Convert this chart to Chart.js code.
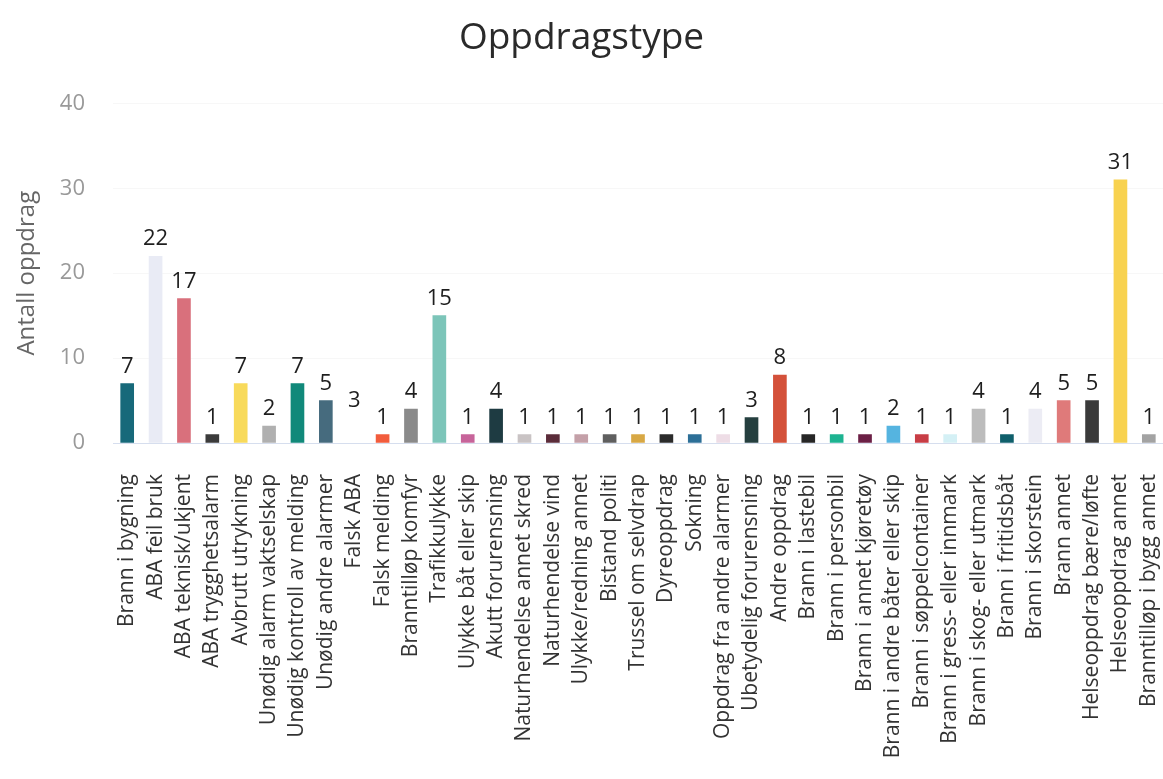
<!DOCTYPE html>
<html>
<head>
<meta charset="utf-8">
<title>Oppdragstype</title>
<script src="https://cdn.jsdelivr.net/npm/chart.js@4/dist/chart.umd.min.js"></script>
<style>
  html, body { margin: 0; padding: 0; background: #ffffff; }
  #wrap { width: 1163px; height: 779px; }
</style>
</head>
<body>
<div id="wrap"><canvas id="oppdragChart" width="1163" height="779"></canvas></div>
<script>
'use strict';

// Categories (mission types)
const categories = [
    'Brann i bygning', 'ABA feil bruk', 'ABA teknisk/ukjent', 'ABA trygghetsalarm',
    'Avbrutt utrykning', 'Unødig alarm vaktselskap', 'Unødig kontroll av melding',
    'Unødig andre alarmer', 'Falsk ABA', 'Falsk melding', 'Branntilløp komfyr',
    'Trafikkulykke', 'Ulykke båt eller skip', 'Akutt forurensning',
    'Naturhendelse annet skred', 'Naturhendelse vind', 'Ulykke/redning annet',
    'Bistand politi', 'Trussel om selvdrap', 'Dyreoppdrag', 'Sokning',
    'Oppdrag fra andre alarmer', 'Ubetydelig forurensning', 'Andre oppdrag',
    'Brann i lastebil', 'Brann i personbil', 'Brann i annet kjøretøy',
    'Brann i andre båter eller skip', 'Brann i søppelcontainer',
    'Brann i gress- eller innmark', 'Brann i skog- eller utmark', 'Brann i fritidsbåt',
    'Brann i skorstein', 'Brann annet', 'Helseoppdrag bære/løfte',
    'Helseoppdrag annet', 'Branntilløp i bygg annet'
];

// Number of missions per type
const counts = [
    7, 22, 17, 1,
    7, 2, 7,
    5, 3, 1, 4,
    15, 1, 4,
    1, 1, 1,
    1, 1, 1, 1,
    1, 3, 8,
    1, 1, 1,
    2, 1,
    1, 4, 1,
    4, 5, 5,
    31, 1
];

// One colour per bar
const barColors = [
    '#17697a', '#e9ebf5', '#d9707c', '#3b3b3b',
    '#f8da5b', '#b0b0b0', '#11897a',
    '#466b7e', '#ffffff', '#f25c3c', '#8a8a8a',
    '#7cc5b9', '#c7649a', '#1e3b42',
    '#c9c3c4', '#5b2c3a', '#c4a0a8',
    '#5f5f5f', '#d8a844', '#2b2b2b', '#2c6f97',
    '#eedde6', '#253f3f', '#d4513a',
    '#262626', '#1db391', '#6b1f45',
    '#55b4e0', '#c83d45',
    '#d4f0f5', '#bcbcbc', '#0f5f6b',
    '#ececf4', '#df7a7a', '#3a3a3a',
    '#f8d24f', '#a3a3a3'
];

const yTicks = [0, 10, 20, 30, 40];

const FONT = "'Open Sans', 'DejaVu Sans', sans-serif";

// Draws the value above each bar
const valueLabels = {
    id: 'valueLabels',
    afterDatasetsDraw: function(chart) {
        const ctx = chart.ctx;
        const meta = chart.getDatasetMeta(0);
        const values = chart.data.datasets[0].data;
        ctx.save();
        ctx.font = '22px ' + FONT;
        ctx.fillStyle = '#1e1e1e';
        ctx.textAlign = 'center';
        ctx.textBaseline = 'bottom';
        meta.data.forEach(function(bar, i) {
            ctx.fillText(String(values[i]), bar.x, bar.y - 6);
        });
        ctx.restore();
    }
};

document.addEventListener('DOMContentLoaded', function() {
    if (typeof Chart === 'undefined') {
        console.error('Chart.js is not loaded!');
        return;
    }

    const ctx = document.getElementById('oppdragChart').getContext('2d');
    new Chart(ctx, {
        type: 'bar',
        data: {
            labels: categories,
            datasets: [{
                label: 'Antall oppdrag',
                data: counts,
                backgroundColor: barColors,
                borderWidth: 0,
                barThickness: 13
            }]
        },
        options: {
            responsive: false,
            animation: false,
            layout: { padding: 0 },
            plugins: {
                legend: { display: false },
                tooltip: { enabled: false },
                title: {
                    display: true,
                    text: 'Oppdragstype',
                    color: '#2a2a2a',
                    font: { family: FONT, size: 37, weight: 'normal' },
                    padding: { top: 16, bottom: 43 }
                }
            },
            scales: {
                x: {
                    grid: { display: false, drawTicks: false },
                    border: { display: true, color: '#d6deee', width: 1 },
                    ticks: {
                        autoSkip: false,
                        minRotation: 90,
                        maxRotation: 90,
                        padding: 31,
                        color: '#333333',
                        font: { family: FONT, size: 21 }
                    },
                    afterFit: function(scale) {
                        // fixed label band, no side padding for the rotated labels
                        scale.height = 336;
                        scale.paddingLeft = 0;
                        scale.paddingRight = 0;
                    }
                },
                y: {
                    min: 0,
                    max: 40,
                    afterBuildTicks: function(scale) {
                        scale.ticks = yTicks.map(function(v) { return { value: v }; });
                    },
                    grid: { color: 'rgba(0,0,0,0.03)', drawTicks: false },
                    border: { display: false },
                    ticks: {
                        padding: 28,
                        color: '#999999',
                        font: { family: FONT, size: 22 }
                    },
                    title: {
                        display: true,
                        text: 'Antall oppdrag',
                        color: '#666666',
                        font: { family: FONT, size: 24 },
                        padding: { top: 13 }
                    },
                    afterFit: function(scale) {
                        scale.width = 113;
                    }
                }
            }
        },
        plugins: [valueLabels]
    });
});
</script>
</body>
</html>
